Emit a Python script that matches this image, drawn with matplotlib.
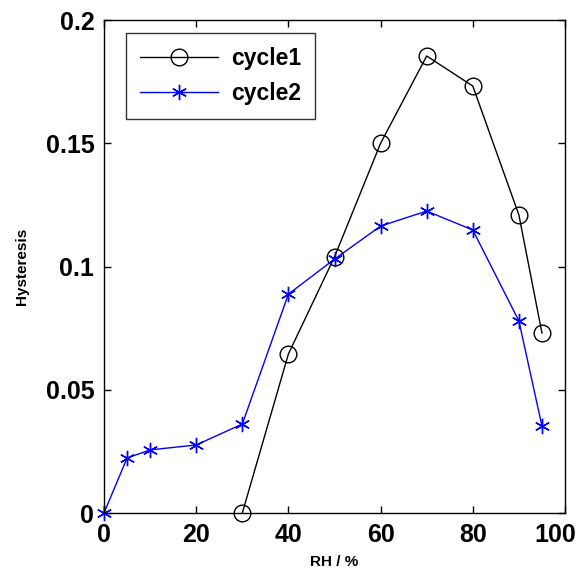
import numpy as np
import matplotlib.pyplot as plt
from matplotlib.transforms import ScaledTranslation

plt.rcParams['font.family'] = ['Liberation Sans', 'DejaVu Sans']
plt.rcParams['font.weight'] = 'bold'

# --- Data ---
rh1 = [30, 40, 50, 60, 70, 80, 90, 95]
cycle1 = [0.0, 0.0645, 0.1039, 0.150, 0.1854, 0.1732, 0.1209, 0.073]

rh2 = [0, 5, 10, 20, 30, 40, 50, 60, 70, 80, 90, 95]
cycle2 = [0.0, 0.0223, 0.0256, 0.0276, 0.0361, 0.0888, 0.103, 0.1164, 0.1225, 0.1148, 0.0779, 0.0353]

x_ticks = [0, 20, 40, 60, 80, 100]
y_ticks = [0, 0.05, 0.1, 0.15, 0.2]
y_labels = ['0', '0.05', '0.1', '0.15', '0.2']

# --- Plot ---
fig = plt.figure(figsize=(5.82, 5.80), dpi=100)
ax = fig.add_axes([0.1787, 0.1155, 0.7921, 0.85])

ax.plot(rh1, cycle1, color='black', lw=1, marker='o', ms=12,
        mfc='none', mec='black', mew=1, label='cycle1', clip_on=False)
# asterisk marker like MATLAB's '*'
ax.plot(rh2, cycle2, color='blue', lw=1, marker=(6, 2, 0), ms=11,
        mfc='none', mec='blue', mew=1, label='cycle2', clip_on=False)

ax.set_xlim(0, 100)
ax.set_ylim(0, 0.2)
ax.set_xticks(x_ticks)
ax.set_yticks(y_ticks)
ax.set_yticklabels(y_labels)
ax.tick_params(direction='in', labelsize=18, length=5, width=1, top=True, right=True, pad=7)
for lab in ax.get_xticklabels() + ax.get_yticklabels():
    lab.set_fontweight('bold')
# last x label sits a bit inside the figure edge, as in the original
last = ax.get_xticklabels()[-1]
last.set_transform(last.get_transform() + ScaledTranslation(-0.1, 0, fig.dpi_scale_trans))
for s in ax.spines.values():
    s.set_linewidth(1)

ax.set_xlabel('RH / %', fontsize=11, fontweight='bold', labelpad=6)
ax.set_ylabel('Hysteresis', fontsize=11, fontweight='bold', labelpad=12)

leg = ax.legend(loc='upper left', fontsize=16.5, frameon=True, fancybox=False,
                edgecolor='black', handlelength=3.4, handletextpad=0.6,
                borderpad=0.6, labelspacing=0.55,
                borderaxespad=0, bbox_to_anchor=(0.048, 0.974))
leg.get_frame().set_linewidth(1)
for t in leg.get_texts():
    t.set_fontweight('bold')

fig.savefig('out.png', dpi=100)
